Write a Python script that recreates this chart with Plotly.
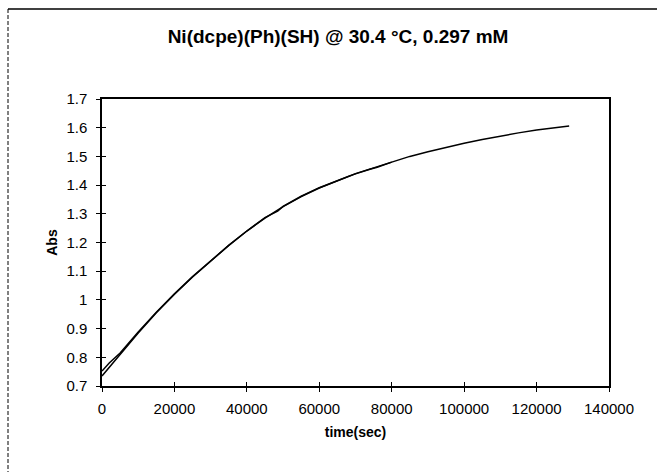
import plotly.graph_objects as go

# Fitted curve
fit_t = [0, 5000, 10000, 15000, 20000, 25000, 30000, 35000, 40000, 45000, 50000,
         55000, 60000, 65000, 70000, 75000, 80000, 85000, 90000, 95000, 100000,
         105000, 110000, 115000, 120000, 125000, 129000]
fit_abs = [0.735, 0.81, 0.885, 0.955, 1.02, 1.08, 1.135, 1.19, 1.24, 1.285, 1.325,
           1.36, 1.39, 1.415, 1.44, 1.46, 1.48, 1.50, 1.516, 1.532, 1.546,
           1.559, 1.571, 1.582, 1.592, 1.600, 1.606]

obs_t = [0, 2000, 5000, 10000, 15000, 20000, 25000, 30000, 35000, 40000, 45000,
         47000, 48500, 50000, 55000, 60000, 65000, 68000, 70000, 72000, 74000,
         76000, 78000, 80000]
obs_abs = [0.752, 0.78, 0.815, 0.888, 0.957, 1.021, 1.081, 1.136, 1.19, 1.24, 1.287,
           1.300, 1.309, 1.326, 1.361, 1.391, 1.417, 1.430, 1.439, 1.448, 1.455,
           1.462, 1.472, 1.480]

title_text = "Ni(dcpe)(Ph)(SH) @ 30.4 °C, 0.297 mM"
x_title = "time(sec)"
y_title = "Abs"
x_ticks = [0, 20000, 40000, 60000, 80000, 100000, 120000, 140000]
x_ticktext = ["0", "20000", "40000", "60000", "80000", "100000", "120000", "140000"]
y_ticks = [0.7, 0.8, 0.9, 1.0, 1.1, 1.2, 1.3, 1.4, 1.5, 1.6, 1.7]
y_ticktext = ["0.7", "0.8", "0.9", "1", "1.1", "1.2", "1.3", "1.4", "1.5", "1.6", "1.7"]

W, H = 657, 472
ML, MR, MT, MB = 102, 48, 99, 86
PW, PH = W - ML - MR, H - MT - MB

def px(x):
    return (x - ML) / PW

def py(y):
    return (H - MB - y) / PH

FONT = "Liberation Sans, Arial, sans-serif"
TICKFONT = dict(family=FONT, size=15, color="black")

fig = go.Figure()
fig.add_trace(go.Scatter(x=obs_t, y=obs_abs, mode="lines", xaxis="x2", yaxis="y2",
                         line=dict(color="black", width=1.5), showlegend=False))
fig.add_trace(go.Scatter(x=fit_t, y=fit_abs, mode="lines",
                         line=dict(color="black", width=1.5), showlegend=False))

fig.update_layout(
    width=W, height=H,
    margin=dict(l=ML, r=MR, t=MT, b=MB),
    paper_bgcolor="white", plot_bgcolor="white",
    title=dict(text="<b>" + title_text + "</b>", x=px(338), xanchor="center",
               xref="paper", y=1 - 36 / H, yanchor="middle",
               font=dict(family=FONT, size=19, color="black")),
    xaxis=dict(range=[0, 140000], tickvals=x_ticks, ticktext=x_ticktext,
               showgrid=False, zeroline=False, showline=True, linecolor="black",
               linewidth=1.5, mirror=True, ticks="outside", ticklen=4, tickcolor="black",
               ticklabelstandoff=4, tickfont=TICKFONT,
               title=dict(text="<b>" + x_title + "</b>", standoff=11,
                          font=dict(family=FONT, size=14, color="black"))),
    yaxis=dict(range=[0.7, 1.7], tickvals=y_ticks, ticktext=y_ticktext,
               showgrid=False, zeroline=False, showline=True, linecolor="black",
               linewidth=1.5, mirror=True, ticks="outside", ticklen=4, tickcolor="black",
               ticklabelstandoff=6, tickfont=TICKFONT,
               title=dict(text="<b>" + y_title + "</b>", standoff=5,
                          font=dict(family=FONT, size=14, color="black"))),
    xaxis2=dict(range=[0, 140000], overlaying="x", anchor="y2", tickvals=x_ticks,
                showticklabels=False, showgrid=False, zeroline=False, showline=False,
                ticks="inside", ticklen=4, tickcolor="black"),
    yaxis2=dict(range=[0.7, 1.7], overlaying="y", anchor="x2", tickvals=y_ticks,
                showticklabels=False, showgrid=False, zeroline=False, showline=False,
                ticks="inside", ticklen=4, tickcolor="black"),
    shapes=[
        dict(type="line", xref="paper", yref="paper", x0=px(8), x1=px(657), y0=py(9), y1=py(9),
             line=dict(color="black", width=1.5)),
        dict(type="line", xref="paper", yref="paper", x0=px(8), x1=px(8), y0=py(9), y1=py(472),
             line=dict(color="black", width=1, dash="4px,2px")),
    ],
)

fig.write_html("out.html")
